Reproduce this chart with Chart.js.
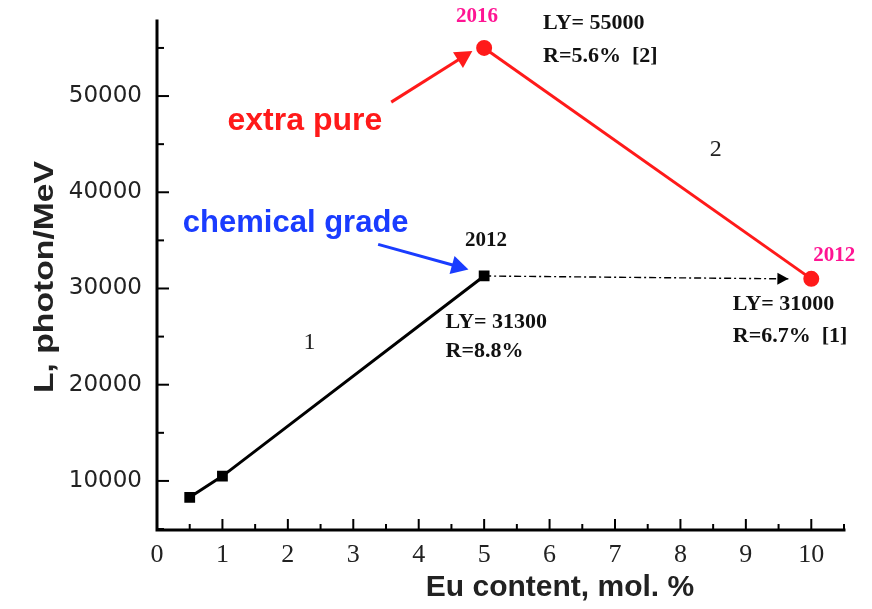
<!DOCTYPE html>
<html>
<head>
<meta charset="utf-8">
<script src="https://cdn.jsdelivr.net/npm/chart.js@4.4.1/dist/chart.umd.min.js"></script>
<style>
  html, body { margin:0; padding:0; background:#fff; }
  #c { display:block; }
</style>
</head>
<body>
<canvas id="c" width="872" height="609"></canvas>
<script>
// datos
const euChem = [0.5, 1, 5];
const lyChem = [8300, 10500, 31300];
const euPure = [5, 10];
const lyPure = [55000, 31000];
const euShift = [5, 9.65];
const lyShift = [31300, 31000];
const xTicks = [0, 1, 2, 3, 4, 5, 6, 7, 8, 9, 10];
const yTicks = [10000, 20000, 30000, 40000, 50000];

const SERIF = "'Liberation Serif', 'Times New Roman', serif";
const SANS = "'Liberation Sans', Arial, sans-serif";
const NOTA = 'bold 22px ' + SERIF;

// etiquetas: [texto, x, y, color, fuente, alineacion]
const notas = [
  ['2016', 4.89, 58300, '#ff1493', 'bold 21px ' + SERIF, 'center'],
  ['LY= 55000', 5.9, 57590, '#111', NOTA, 'left'],
  ['R=5.6%  [2]', 5.9, 54160, '#111', NOTA, 'left'],
  ['2', 8.54, 44470, '#222', '24px ' + SERIF, 'center'],
  ['extra pure', 2.26, 47390, '#ff1a1a', 'bold 32px ' + SANS, 'center'],
  ['chemical grade', 2.12, 36770, '#1a3cff', 'bold 31px ' + SANS, 'center'],
  ['2012', 5.03, 35000, '#111', 'bold 21px ' + SERIF, 'center'],
  ['LY= 31300', 4.41, 26460, '#111', NOTA, 'left'],
  ['R=8.8%', 4.41, 23440, '#111', NOTA, 'left'],
  ['1', 2.33, 24370, '#222', '24px ' + SERIF, 'center'],
  ['2012', 10.35, 33430, '#ff1493', 'bold 21px ' + SERIF, 'center'],
  ['LY= 31000', 8.80, 28330, '#111', NOTA, 'left'],
  ['R=6.7%  [1]', 8.80, 25000, '#111', NOTA, 'left']
];
// flechas: [x0, y0, x1, y1, color]
const flechas = [
  [3.58, 49370, 4.82, 54680, '#ff1a1a'],
  [3.38, 34580, 4.76, 31980, '#1a3cff']
];

function flecha(ctx, x0, y0, x1, y1, color, w, head) {
  const a = Math.atan2(y1 - y0, x1 - x0);
  ctx.save();
  ctx.strokeStyle = color; ctx.fillStyle = color;
  if (w > 0) {
    ctx.lineWidth = w;
    ctx.beginPath(); ctx.moveTo(x0, y0);
    ctx.lineTo(x1 - Math.cos(a) * head * 0.8, y1 - Math.sin(a) * head * 0.8); ctx.stroke();
  }
  ctx.translate(x1, y1); ctx.rotate(a);
  ctx.beginPath(); ctx.moveTo(0, 0); ctx.lineTo(-head, -head * 0.55); ctx.lineTo(-head, head * 0.55);
  ctx.closePath(); ctx.fill();
  ctx.restore();
}

const dibujoExtra = {
  id: 'dibujoExtra',
  afterDraw(chart) {
    const ctx = chart.ctx;
    const xs = chart.scales.x, ys = chart.scales.y;
    const a = chart.chartArea;
    ctx.save();
    // ejes
    ctx.strokeStyle = '#000'; ctx.lineWidth = 3; ctx.lineCap = 'square';
    ctx.beginPath(); ctx.moveTo(a.left, a.top); ctx.lineTo(a.left, a.bottom); ctx.lineTo(a.right, a.bottom); ctx.stroke();
    ctx.lineWidth = 2; ctx.lineCap = 'butt';
    for (let v = 0.5; v <= xs.max + 0.01; v += 0.5) {
      const px = xs.getPixelForValue(v);
      const len = Number.isInteger(v) ? 11 : 6;
      ctx.beginPath(); ctx.moveTo(px, a.bottom); ctx.lineTo(px, a.bottom - len); ctx.stroke();
    }
    for (let v = 5000; v <= ys.max; v += 5000) {
      const py = ys.getPixelForValue(v);
      const len = v % 10000 === 0 ? 12 : 7;
      ctx.beginPath(); ctx.moveTo(a.left, py); ctx.lineTo(a.left + len, py); ctx.stroke();
    }
    // punta de la flecha punteada
    const n = euShift.length - 1;
    flecha(ctx, xs.getPixelForValue(euShift[n - 1]), ys.getPixelForValue(lyShift[n - 1]),
      xs.getPixelForValue(euShift[n]), ys.getPixelForValue(lyShift[n]), '#000', 0, 11);
    // flechas de las etiquetas
    flechas.forEach(f => flecha(ctx, xs.getPixelForValue(f[0]), ys.getPixelForValue(f[1]),
      xs.getPixelForValue(f[2]), ys.getPixelForValue(f[3]), f[4], 3, 17));
    // textos
    ctx.textBaseline = 'middle';
    notas.forEach(t => {
      ctx.fillStyle = t[3]; ctx.font = t[4]; ctx.textAlign = t[5];
      ctx.fillText(t[0], xs.getPixelForValue(t[1]), ys.getPixelForValue(t[2]));
    });
    // titulos de los ejes
    ctx.fillStyle = '#222'; ctx.textAlign = 'center';
    ctx.font = 'bold 30px ' + SANS;
    ctx.fillText('Eu content, mol. %', 560, 588);
    ctx.save();
    ctx.translate(45, 277); ctx.rotate(-Math.PI / 2);
    ctx.font = 'bold 28px ' + SANS;
    const t = 'L, photon/MeV';
    ctx.scale(232 / ctx.measureText(t).width, 1);
    ctx.fillText(t, 0, 0);
    ctx.restore();
    ctx.restore();
  }
};

new Chart(document.getElementById('c'), {
  type: 'line',
  data: {
    datasets: [
      { data: euChem.map((x, i) => ({ x, y: lyChem[i] })), borderColor: '#000', backgroundColor: '#000',
        borderWidth: 3, pointStyle: 'rect', pointRadius: 5.5, clip: false },
      { data: euPure.map((x, i) => ({ x, y: lyPure[i] })), borderColor: '#ff1a1a', backgroundColor: '#ff1a1a',
        borderWidth: 3, pointStyle: 'circle', pointRadius: 6.5, clip: false },
      { data: euShift.map((x, i) => ({ x, y: lyShift[i] })), borderColor: '#000',
        borderWidth: 1.4, borderDash: [7, 3, 2, 3], pointRadius: 0, clip: false }
    ]
  },
  options: {
    responsive: false,
    animation: false,
    layout: { padding: { top: 21, right: 28, left: 0, bottom: 0 } },
    plugins: { legend: { display: false }, tooltip: { enabled: false } },
    scales: {
      x: {
        type: 'linear', min: 0, max: 10.5,
        grid: { display: false }, border: { display: false },
        afterBuildTicks: s => { s.ticks = xTicks.map(v => ({ value: v })); },
        afterFit: s => { s.height = 79; },
        ticks: { color: '#222', font: { family: SERIF, size: 26 }, padding: 2, callback: v => String(v) }
      },
      y: {
        type: 'linear', min: 4900, max: 57800,
        grid: { display: false }, border: { display: false },
        afterBuildTicks: s => { s.ticks = yTicks.map(v => ({ value: v })); },
        afterFit: s => { s.width = 157; },
        ticks: { color: '#222', font: { family: "'DejaVu Sans', Verdana, sans-serif", size: 23 }, padding: 7, callback: v => String(v) }
      }
    }
  },
  plugins: [dibujoExtra]
});
</script>
</body>
</html>
